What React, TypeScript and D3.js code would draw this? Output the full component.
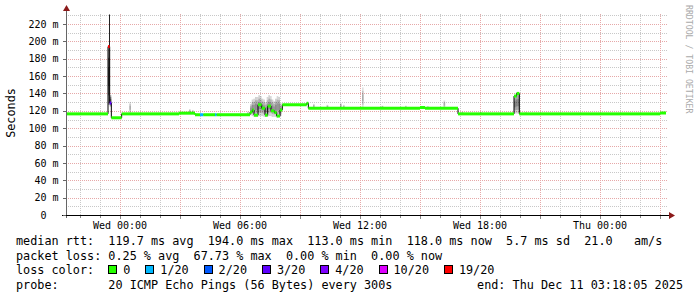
import React from 'react';
import * as d3 from 'd3';

// ---------- data ----------
const START = new Date(2025, 11, 9, 21, 18, 5);
const END = new Date(2025, 11, 11, 3, 18, 5);

// median rtt segments: start (hours after START), median (ms), lost pings out of 20
const segStartH = [0, 2.10, 2.183, 2.267, 2.783, 5.65, 6.45, 6.70, 6.867, 7.45, 7.533,
  9.20, 9.317, 9.40, 9.60, 9.783, 9.95, 10.083, 10.25, 10.417, 10.533, 10.70,
  10.817, 12.033, 12.117, 17.70, 17.95, 19.60, 22.40, 22.533, 22.667, 29.70];
const segMedian = [116.5, 194, 129, 112, 116.5, 117.3, 115.5, 115.5, 115.5, 115.5, 115.5,
  118.5, 121, 115, 127, 123, 115, 125.5, 120, 118, 114, 121,
  127, 128.7, 123, 123.8, 123, 116.5, 137, 140, 116.5, 117.5];
const segLoss = [0, 19, 3, 0, 0, 0, 0, 1, 0, 1, 0,
  0, 0, 0, 0, 0, 0, 0, 0, 0, 0, 0,
  0, 0, 0, 0, 0, 0, 0, 0, 0, 0];

// smoke (ping spread) per 5-minute sample
const smokeH = [2.10, 2.183, 3.165, 6.15, 6.30, 9.05,
  9.20, 9.283, 9.367, 9.45, 9.533, 9.617, 9.70, 9.783, 9.867, 9.95, 10.033, 10.117, 10.20, 10.283, 10.367, 10.45, 10.533, 10.617, 10.70,
  12.35, 13.03, 13.7, 13.85, 14.8, 15.78, 16.95, 18.05, 18.875,
  19.78, 20.7, 22.40, 22.483, 22.567, 22.95];
const smokeLo = [127, 125, 117, 117, 118, 116,
  115, 114, 113, 113, 113, 114, 114, 114, 113, 113, 113, 114, 114, 113, 113, 113, 112, 113, 114,
  123, 123, 123, 123, 123, 123, 123, 123, 123,
  116.5, 116.5, 117, 117, 117, 116.5];
const smokeHi = [192, 138, 130, 122, 121, 119,
  128, 133, 134, 136, 136, 138, 137, 134, 133, 130, 136, 138, 137, 133, 131, 134, 137, 136, 129,
  128, 127, 129, 127, 147, 126, 126, 125.5, 132,
  119, 118.5, 138, 141, 142, 118.5];
const smokeDensity = [1, 0.85, 0.3, 0.3, 0.25, 0.25,
  0.4, 0.45, 0.4, 0.45, 0.4, 0.45, 0.4, 0.45, 0.4, 0.45, 0.4, 0.45, 0.4, 0.45, 0.4, 0.45, 0.4, 0.45, 0.4,
  0.3, 0.3, 0.3, 0.25, 0.3, 0.3, 0.25, 0.25, 0.3,
  0.3, 0.25, 0.5, 0.5, 0.5, 0.25];

const peakH = [2.10];
const peakHi = [231];

const lossLevels = [0, 1, 2, 3, 4, 10, 19];
const lossColors = ['#26ff00', '#00b8ff', '#0059ff', '#5e00ff', '#7e00ff', '#dd00ff', '#ff0000'];
const lossLabels = ['0', '1/20', '2/20', '3/20', '4/20', '10/20', '19/20'];

const yMajorTicks = [0, 20, 40, 60, 80, 100, 120, 140, 160, 180, 200, 220];
const yMinorTicks = [10, 30, 50, 70, 90, 110, 130, 150, 170, 190, 210, 230];

const legendRtt = 'median rtt:  119.7 ms avg  194.0 ms max  113.0 ms min  118.0 ms now  5.7 ms sd  21.0   am/s';
const legendLoss = 'packet loss: 0.25 % avg  67.73 % max  0.00 % min  0.00 % now';
const legendColorTitle = 'loss color:';
const legendProbe = 'probe:       20 ICMP Echo Pings (56 Bytes) every 300s';
const legendEnd = 'end: Thu Dec 11 03:18:05 2025';

// ---------- layout ----------
const W = 697, H = 297;
const X0 = 66, X1 = 666, Y0 = 215, YTOP = 15;
const MONO = '"DejaVu Sans Mono", monospace';
const CW = 7.1; // legend char width
const STEP_MS = 5 * 60 * 1000;

const at = (h: number) => new Date(START.getTime() + h * 3600 * 1000);

const pre: React.CSSProperties = { whiteSpace: 'pre' };

export default function App() {
  const x = d3.scaleTime().domain([START, END]).range([X0, X1]);
  const y = d3.scaleLinear().domain([0, 230.4]).range([Y0, YTOP]);
  const px = (v: number) => Math.round(v) + 0.5;

  const hours = d3.timeHour.range(d3.timeHour.ceil(START), END);
  const fmt = d3.timeFormat('%a %H:%M');

  const colorFor = (loss: number) => {
    let c = lossColors[0];
    lossLevels.forEach((l, i) => { if (loss >= l) c = lossColors[i]; });
    return c;
  };

  const segs = segStartH.map((h, i) => ({
    t0: at(h),
    t1: i + 1 < segStartH.length ? at(segStartH[i + 1]) : END,
    v: segMedian[i],
    loss: segLoss[i],
  }));

  let stepPath = '';
  segs.forEach((s, i) => {
    const yy = y(s.v);
    if (i === 0) stepPath += `M${x(s.t0)},${yy}`;
    else stepPath += `V${yy}`;
    stepPath += `H${x(s.t1)}`;
  });

  const smoke = smokeH.map((h, i) => ({ t: at(h), lo: smokeLo[i], hi: smokeHi[i], d: smokeDensity[i] }));

  // legend boxes
  const boxStart = 16 + 13 * CW;
  let cx = boxStart;
  const legendItems = lossLabels.map((lab, i) => {
    const item = { bx: cx, tx: cx + 15, lab, color: lossColors[i] };
    cx += (lab.length + 4) * CW + 1.5;
    return item;
  });

  const rowY = [245, 259.5, 274, 288.5];

  return (
    <svg width={W} height={H} style={{ position: 'absolute', left: 0, top: 0, background: '#fff' }}>
      <rect x={0} y={0} width={W} height={H} fill="#fff" />
      {/* minor grid */}
      <g stroke="#c8c8c8" strokeWidth={1} strokeDasharray="1,1">
        {yMinorTicks.map((v) => (
          <line key={'ym' + v} x1={X0} x2={X1 + 2} y1={px(y(v))} y2={px(y(v))} />
        ))}
        {hours.filter((d) => d.getHours() % 3 !== 0).map((d) => (
          <line key={'xm' + d.getTime()} x1={px(x(d))} x2={px(x(d))} y1={Y0} y2={YTOP - 2} />
        ))}
      </g>
      {/* major grid */}
      <g stroke="#e6a8a8" strokeWidth={1} strokeDasharray="1,1">
        {yMajorTicks.filter((v) => v > 0).map((v) => (
          <line key={'yM' + v} x1={X0} x2={X1 + 2} y1={px(y(v))} y2={px(y(v))} />
        ))}
        {hours.filter((d) => d.getHours() % 3 === 0).map((d) => (
          <line key={'xM' + d.getTime()} x1={px(x(d))} x2={px(x(d))} y1={Y0} y2={YTOP - 2} />
        ))}
      </g>

      {/* smoke */}
      <g>
        {smoke.map((s, i) => {
          const xa = x(s.t), xb = x(new Date(s.t.getTime() + STEP_MS));
          const mid = (s.lo + s.hi) / 2;
          return [0, 1, 2].map((k) => {
            const lo = s.lo + (mid - s.lo) * k / 3;
            const hi = s.hi - (s.hi - mid) * k / 3;
            return (
              <rect key={`s${i}-${k}`} x={xa} width={xb - xa} y={y(hi)} height={y(lo) - y(hi)}
                fill="#000" fillOpacity={s.d * 0.4} />
            );
          });
        })}
        {peakH.map((h, i) => (
          <line key={'pk' + i} x1={px(x(at(h)) + 0.5)} x2={px(x(at(h)) + 0.5)} y1={y(peakHi[i])} y2={y(segMedian[1])}
            stroke="#222" strokeWidth={1} />
        ))}
      </g>

      {/* median: black step line then loss-coloured segments */}
      <path d={stepPath} fill="none" stroke="#000" strokeWidth={1} />
      {segs.map((s, i) => (
        <rect key={'m' + i} x={x(s.t0)} width={x(s.t1) - x(s.t0)} y={y(s.v) - 1.5} height={3} fill={colorFor(s.loss)} />
      ))}

      {/* axes */}
      <line x1={X0 + 0.5} x2={X0 + 0.5} y1={Y0 + 3} y2={YTOP - 4} stroke="#666" strokeWidth={1} />
      <line x1={X0 - 4} x2={X1 + 4} y1={Y0 + 0.5} y2={Y0 + 0.5} stroke="#000" strokeWidth={1} />
      <polygon points={`${X0 + 0.5},${YTOP - 10} ${X0 - 3},${YTOP - 4} ${X0 + 4},${YTOP - 4}`} fill="#8b1a1a" />
      <polygon points={`${X1 + 9},${Y0 + 0.5} ${X1 + 3},${Y0 - 3} ${X1 + 3},${Y0 + 4}`} fill="#8b1a1a" />
      {yMajorTicks.map((v) => (
        <line key={'yt' + v} x1={X0 - 3} x2={X0} y1={px(y(v))} y2={px(y(v))} stroke="#666" />
      ))}
      {hours.map((d) => (
        <line key={'xt' + d.getTime()} x1={px(x(d))} x2={px(x(d))} y1={Y0 + 1} y2={Y0 + (d.getHours() % 3 === 0 ? 4 : 3)} stroke="#888" />
      ))}

      {/* tick labels */}
      <g fontFamily={MONO} fontSize={10} fill="#000">
        {yMajorTicks.map((v) => (
          <text key={'yl' + v} x={v === 0 ? 46.6 : 58.6} y={y(v) + 3.6} textAnchor="end">
            {v === 0 ? '0' : `${v} m`}
          </text>
        ))}
        {hours.filter((d) => d.getHours() % 6 === 0).map((d) => (
          <text key={'xl' + d.getTime()} x={x(d)} y={228.5} textAnchor="middle">{fmt(d)}</text>
        ))}
      </g>

      {/* titles */}
      <text transform="translate(15,113) rotate(-90)" fontFamily={MONO} fontSize={11.8} textAnchor="middle">Seconds</text>
      <text transform="translate(685.5,5) rotate(90)" fontFamily={MONO} fontSize={8.2} fill="#aaa">RRDTOOL / TOBI OETIKER</text>

      {/* legend */}
      <g fontFamily={MONO} fontSize={11.8} fill="#000">
        <text x={16} y={rowY[0]} xmlSpace="preserve" style={pre}>{legendRtt}</text>
        <text x={16} y={rowY[1]} xmlSpace="preserve" style={pre}>{legendLoss}</text>
        <text x={16} y={rowY[2]} xmlSpace="preserve" style={pre}>{legendColorTitle}</text>
        {legendItems.map((it) => (
          <g key={'lg' + it.lab}>
            <rect x={Math.round(it.bx) + 0.5} y={rowY[2] - 8.5} width={8} height={8} fill={it.color} stroke="#000" strokeWidth={1} />
            <text x={it.tx} y={rowY[2]}>{it.lab}</text>
          </g>
        ))}
        <text x={16} y={rowY[3]} xmlSpace="preserve" style={pre}>{legendProbe}</text>
        <text x={683} y={rowY[3]} textAnchor="end">{legendEnd}</text>
      </g>
    </svg>
  );
}
